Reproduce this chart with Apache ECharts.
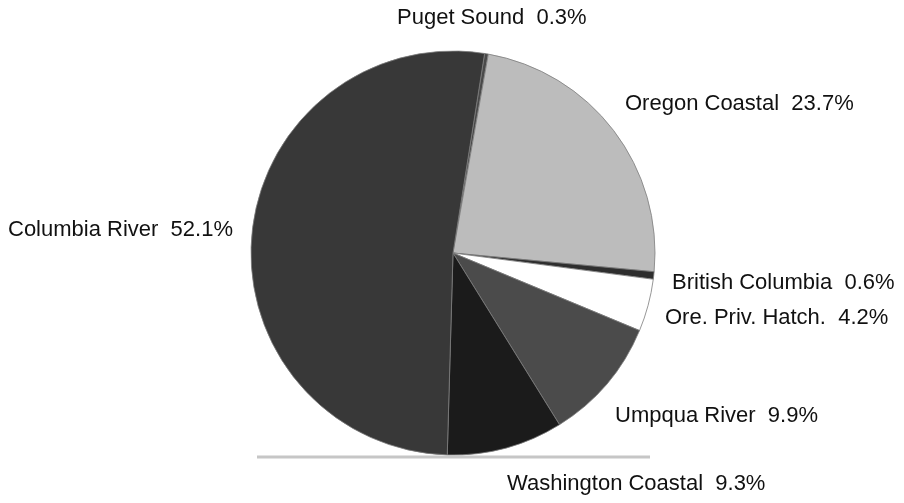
<!DOCTYPE html>
<html>
<head>
<meta charset="utf-8">
<script src="https://cdn.jsdelivr.net/npm/echarts@6/dist/echarts.min.js"></script>
<style>html,body{margin:0;padding:0;background:#fff}#c{width:904px;height:503px}</style>
</head>
<body>
<div id="c"></div>
<script>
const categories = ['Puget Sound', 'Oregon Coastal', 'British Columbia', 'Ore. Priv. Hatch.', 'Umpqua River', 'Washington Coastal', 'Columbia River'];
const shares = [0.3, 23.7, 0.6, 4.2, 9.9, 9.3, 52.1];
const sliceColors = ['#4a4a4a', '#bcbcbc', '#2e2e2e', '#ffffff', '#4b4b4b', '#1b1b1b', '#383838'];
// label anchor (left x, middle y) per slice
const labelPos = [[397, 18], [625, 104], [672, 283], [665, 318], [615, 416], [507, 484], [8, 230]];

const chart = echarts.init(document.getElementById('c'), null, {renderer: 'canvas'});
chart.setOption({
  backgroundColor: '#ffffff',
  animation: false,
  graphic: [{
    type: 'line',
    shape: {x1: 257, y1: 457, x2: 650, y2: 457},
    style: {stroke: '#c6c6c6', lineWidth: 3},
    z: 0
  }],
  series: [{
    type: 'pie',
    center: [453, 253],
    radius: [0, 202],
    startAngle: 81,
    clockwise: true,
    avoidLabelOverlap: false,
    z: 2,
    itemStyle: {borderColor: '#7c7c7c', borderWidth: 0.8},
    label: {
      show: true,
      formatter: p => p.name + '  ' + p.value.toFixed(1) + '%',
      fontFamily: 'Liberation Sans, Arial, sans-serif',
      fontSize: 22,
      color: '#111',
      align: 'left',
      verticalAlign: 'middle'
    },
    labelLine: {show: false},
    labelLayout: params => ({
      x: labelPos[params.dataIndex][0],
      y: labelPos[params.dataIndex][1],
      align: 'left',
      verticalAlign: 'middle'
    }),
    data: categories.map((n, i) => ({name: n, value: shares[i], itemStyle: {color: sliceColors[i]}}))
  }]
});
</script>
</body>
</html>
